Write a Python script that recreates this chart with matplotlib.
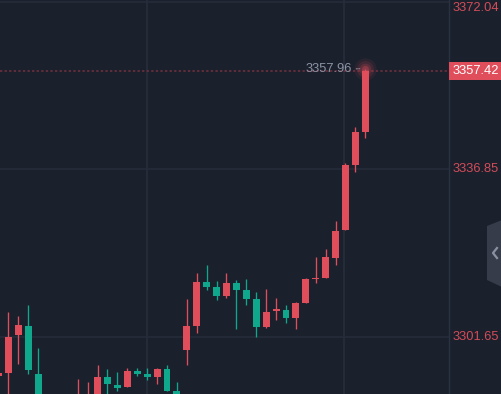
import numpy as np
import matplotlib.pyplot as plt
from matplotlib.patches import Rectangle, Polygon
from matplotlib.lines import Line2D

plt.rcParams['font.family'] = ['Liberation Sans', 'DejaVu Sans']

# OHLC, one candle per bar (oldest first)
opens = [3293.56, 3294.13, 3302.10, 3303.99, 3293.92, 3286.0, 3283.0, 3285.0,
         3285.5, 3286.5, 3288.0, 3293.29, 3291.61, 3291.19, 3294.55, 3293.92,
         3293.29, 3294.97, 3290.35, 3298.95, 3303.99, 3313.21, 3312.16, 3310.28,
         3313.00, 3311.54, 3309.65, 3303.78, 3307.20, 3307.34, 3305.66, 3308.81,
         3313.90, 3314.05, 3318.25, 3324.12, 3337.75, 3344.67]
highs = [3294.30, 3306.92, 3306.08, 3308.39, 3299.37, 3288.5, 3287.0, 3289.0,
         3292.87, 3292.24, 3295.81, 3294.97, 3294.34, 3295.18, 3295.18, 3295.18,
         3295.18, 3295.81, 3292.24, 3309.65, 3315.10, 3316.78, 3313.42, 3315.10,
         3313.63, 3313.84, 3311.12, 3311.75, 3309.86, 3308.39, 3309.02, 3314.05,
         3318.46, 3320.13, 3326.01, 3338.17, 3345.72, 3357.96]
lows = [3293.20, 3288.50, 3296.02, 3293.92, 3284.5, 3281.0, 3280.0, 3283.0,
        3284.0, 3285.0, 3287.0, 3289.00, 3290.35, 3291.19, 3293.50, 3292.66,
        3291.82, 3290.35, 3287.5, 3295.81, 3302.52, 3311.54, 3309.44, 3309.86,
        3303.36, 3308.39, 3301.68, 3303.57, 3305.24, 3304.61, 3303.36, 3308.81,
        3313.00, 3314.05, 3316.78, 3324.12, 3336.28, 3343.41]
closes = [3294.13, 3301.68, 3304.19, 3294.76, 3286.0, 3283.0, 3285.0, 3287.0,
          3289.2, 3289.3, 3293.29, 3291.82, 3291.05, 3294.55, 3293.92, 3293.29,
          3294.97, 3290.35, 3288.5, 3303.99, 3313.21, 3312.16, 3310.28, 3313.00,
          3311.54, 3309.65, 3303.78, 3306.92, 3307.40, 3305.66, 3308.81, 3313.84,
          3314.10, 3318.46, 3323.91, 3337.75, 3344.67, 3357.42]

price_ticks = [3372.04, 3336.85, 3301.65]
time_grid = [15.0, 34.85]
last_price = 3357.42
max_high = 3357.96

W, H = 502, 394
bg = '#1b202d'
red = '#e04e5b'
green = '#0fa88c'
grid = '#242b39'
ylim = (3289.72, 3372.36)
upp = (ylim[1] - ylim[0]) / H  # price units per pixel

fig = plt.figure(figsize=(W / 100, H / 100), dpi=100, facecolor=bg)
ax = fig.add_axes([0, 0, 449 / W, 1])
ax.set_facecolor(bg)
for s in ax.spines.values():
    s.set_visible(False)
ax.set_xticks([])
ax.set_yticks([])
ax.set_xlim(0.16, 45.44)
ax.set_ylim(*ylim)

for v in price_ticks:
    ax.axhline(v, color=grid, lw=1.3, zorder=0)
for t in time_grid:
    ax.axvline(t, color=grid, lw=1.5, zorder=0)

o = np.array(opens)
c = np.array(closes)
x = np.arange(len(o))
colors = [red if cc >= oo else green for oo, cc in zip(o, c)]
bottoms = np.minimum(o, c)
heights = np.maximum(np.abs(c - o), 1.2 * upp)

ax.vlines(x, lows, highs, colors=colors, lw=0.95, zorder=2)
ax.bar(x, heights, bottom=bottoms, width=0.7, color=colors, lw=0, zorder=3)

# last price line
ax.axhline(last_price, color='#74303d', lw=1.1, ls=(0, (1.5, 1.5)), zorder=1)

# glow on the live candle
for s, a in [(260, 0.08), (150, 0.12), (70, 0.2), (25, 0.35)]:
    ax.scatter([x[-1]], [max_high], s=s, color=red, alpha=a, lw=0, zorder=4)

ax.annotate(f'{max_high:.2f}', xy=(x[-1], max_high), xytext=(-9.5, -0.5),
            textcoords='offset points', ha='right', va='center',
            color='#8c93a3', fontsize=9.3,
            arrowprops=dict(arrowstyle='-', color='#8c93a3', lw=0.8,
                            ls=(0, (1, 1.2)), shrinkA=1, shrinkB=4))

# right price scale
axr = fig.add_axes([449 / W, 0, 53 / W, 1])
axr.set_facecolor(bg)
axr.set_xlim(0, 1)
axr.set_ylim(*ylim)
axr.set_xticks([])
axr.set_yticks([])
for k, s in axr.spines.items():
    s.set_visible(k == 'left')
axr.spines['left'].set_color('#2a3140')
axr.spines['left'].set_linewidth(1.0)

tr = axr.get_yaxis_transform()
for v in price_ticks:
    va = 'top' if v == max(price_ticks) else 'center'
    axr.text(0.07, v, f'{v:.2f}', transform=tr, ha='left', va=va,
             color='#d34c59', fontsize=9.3)

hh = 9 * upp
axr.add_patch(Rectangle((0, last_price - hh), 1, 2 * hh, transform=tr,
                        color=red, lw=0, zorder=3))
axr.text(0.07, last_price, f'{last_price:.2f}', transform=tr, ha='left',
         va='center', color='white', fontsize=9.3, zorder=4)


def px(xp, yp):
    return (xp / W, 1 - yp / H)


# collapse handle
handle = Polygon([px(487, 226), px(502, 220), px(502, 287), px(487, 280)],
                 closed=True, transform=fig.transFigure, color='#363c4a', lw=0)
fig.add_artist(handle)
cx, cy = zip(px(497, 248), px(493, 253), px(497, 258))
fig.add_artist(Line2D(cx, cy, transform=fig.transFigure, color='#8b91a1', lw=1.6))

fig.savefig('out.png', dpi=100, facecolor=bg)
